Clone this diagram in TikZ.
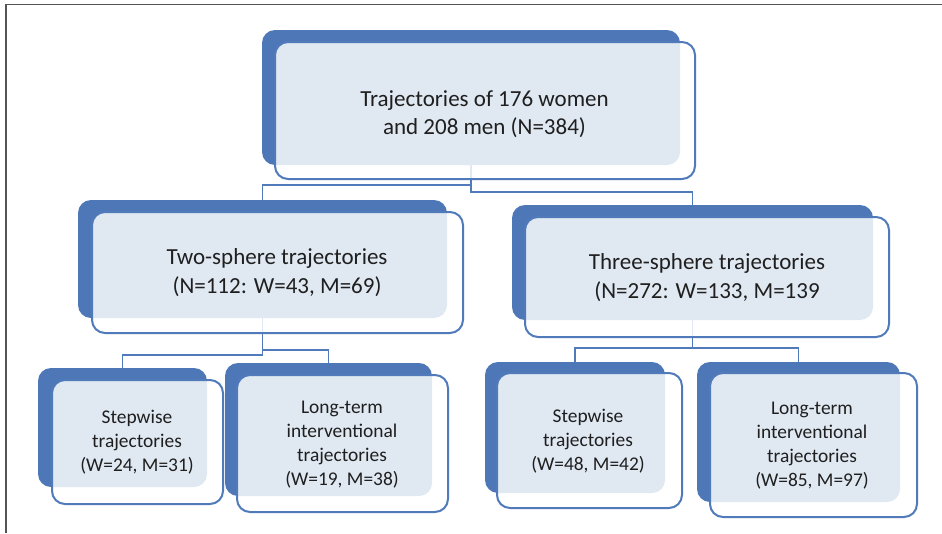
\documentclass[tikz,border=0pt]{standalone}
\usepackage{fontspec}
\setmainfont{Carlito}
\definecolor{bback}{RGB}{77,119,183}
\definecolor{bline}{RGB}{80,122,186}
\definecolor{frame}{RGB}{85,85,85}
\tikzset{
  backbox/.style={rectangle, rounded corners=13pt, fill=bback, draw=none, inner sep=0pt},
  frontbox/.style={rectangle, rounded corners=13pt, fill=white, fill opacity=0.83, draw=bline, draw opacity=1, line width=2pt, inner sep=0pt},
  conn/.style={draw=bline, line width=1.9pt},
  bigtxt/.style={align=center, font=\fontsize{23}{28.5}\selectfont, text=black!88, inner sep=0pt},
  smalltxt/.style={align=center, font=\fontsize{19.4}{24}\selectfont, text=black!88, inner sep=0pt}
}
\begin{document}
\begin{tikzpicture}[x=1pt,y=-1pt]
\useasboundingbox (0,0) rectangle (942,533);
\draw[frame, line width=1.4pt] (6,533) -- (6,4.5) -- (942,4.5);

% back boxes
\node[backbox, minimum width=418pt, minimum height=135pt] (topb) at (471,97.5) {};
\node[backbox, minimum width=369pt, minimum height=118pt] (twob) at (262.5,259) {};
\node[backbox, minimum width=361pt, minimum height=115pt] (threeb) at (692.5,262.5) {};
\node[backbox, minimum width=169pt, minimum height=119pt] (s2b) at (122.5,427.5) {};
\node[backbox, minimum width=207pt, minimum height=133pt] (l2b) at (328.5,429.5) {};
\node[backbox, minimum width=180pt, minimum height=131pt] (s3b) at (575,427.5) {};
\node[backbox, minimum width=203pt, minimum height=140pt] (l3b) at (798.5,432) {};

% connectors
\coordinate (j1) at (471,185);
\coordinate (j2) at (471,192);
\draw[conn] (topb.south) -- (j2) -| (threeb.north);
\draw[conn] (j1) -| (twob.north);
\coordinate (j3) at (262.5,355);
\coordinate (j4) at (262.5,350);
\draw[conn] (twob.south) -- (j3) -| (s2b.north);
\draw[conn] (j4) -| (l2b.north);
\coordinate (j5) at (692.5,348);
\draw[conn] (threeb.south) -- (j5) -| (s3b.north);
\draw[conn] (j5) -| (l3b.north);

% front boxes
\node[frontbox, minimum width=420pt, minimum height=137pt] (topf) at (485,110.5) {};
\node[frontbox, minimum width=371pt, minimum height=121pt] (twof) at (277.5,272.5) {};
\node[frontbox, minimum width=364pt, minimum height=120pt] (threef) at (707,277) {};
\node[frontbox, minimum width=171pt, minimum height=124pt] (s2f) at (137.5,442) {};
\node[frontbox, minimum width=211pt, minimum height=137pt] (l2f) at (342.5,443.5) {};
\node[frontbox, minimum width=185pt, minimum height=135pt] (s3f) at (589.5,440.5) {};
\node[frontbox, minimum width=207pt, minimum height=144pt] (l3f) at (813.5,445) {};

% texts
\node[bigtxt] (topt) at (484.5,114) {Trajectories of 176 women\\and 208 men (N=384)};
\node[bigtxt] (twot) at (277,272.5) {Two-sphere trajectories\\(N=112: W=43, M=69)};
\node[bigtxt] (threet) at (707,277.5) {Three-sphere trajectories\\(N=272: W=133, M=139};
\node[smalltxt] (s2t) at (137,442.5) {Stepwise\\trajectories\\(W=24, M=31)};
\node[smalltxt] (l2t) at (342,445) {Long-term\\interventional\\trajectories\\(W=19, M=38)};
\node[smalltxt] (s3t) at (588,441) {Stepwise\\trajectories\\(W=48, M=42)};
\node[smalltxt] (l3t) at (812,446) {Long-term\\interventional\\trajectories\\(W=85, M=97)};
\end{tikzpicture}
\end{document}
